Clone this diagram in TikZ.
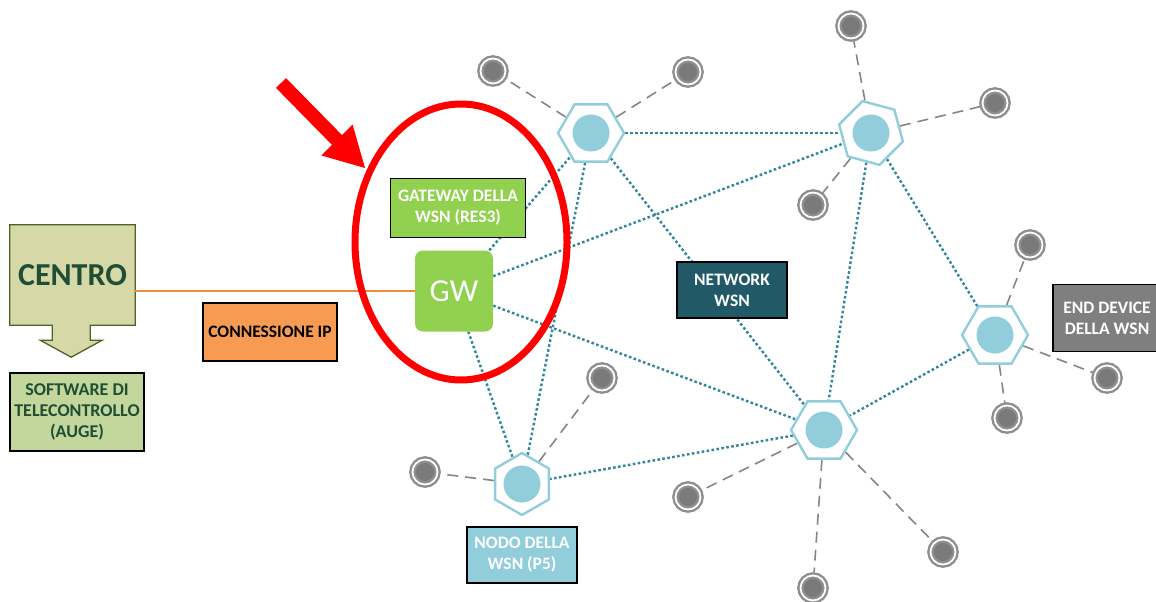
\documentclass[tikz,border=0pt]{standalone}
\usepackage{fontspec}
\setmainfont{Carlito}
\usetikzlibrary{shapes.geometric}
\pgfdeclarelayer{background}
\pgfsetlayers{background,main}

\definecolor{teallink}{HTML}{31859C}
\definecolor{hexline}{HTML}{92CDDC}
\definecolor{hexfill}{HTML}{92CDDC}
\definecolor{devfill}{HTML}{7A7A7A}
\definecolor{devring}{HTML}{8E8E8E}
\definecolor{devlink}{HTML}{858585}
\definecolor{gwgreen}{HTML}{92D050}
\definecolor{netteal}{HTML}{215967}
\definecolor{endgrey}{HTML}{7F7F7F}
\definecolor{ipfill}{HTML}{F79B52}
\definecolor{ipline}{HTML}{F38B3C}
\definecolor{centrofill}{HTML}{D7D8A8}
\definecolor{centroline}{HTML}{4F6228}
\definecolor{centrotext}{HTML}{1F4E35}
\definecolor{softfill}{HTML}{C3D69B}
\definecolor{alertred}{HTML}{FF0000}

\begin{document}
\begin{tikzpicture}[x=1pt,y=-1pt,
  hexa/.style={regular polygon, regular polygon sides=6, minimum size=#1,
    draw=hexline, line width=2.4pt, fill=white, inner sep=0pt},
  hexa/.default=66pt,
  enddev/.style={circle, minimum size=25pt, inner sep=0pt, fill=devfill,
    draw=devring, line width=2.4pt, double=white, double distance=1.8pt,
    outer sep=3pt},
  wsnlink/.style={draw=teallink, line width=2.4pt, dash pattern=on 2.6pt off 2.4pt},
  devlinkstyle/.style={draw=devlink, line width=1.6pt, dash pattern=on 11pt off 7pt},
  tag/.style={draw=black, line width=1.3pt, align=center, inner sep=0pt,
    font=\bfseries\fontsize{17.5}{21}\selectfont},
]
\useasboundingbox (0,0) rectangle (1156,602);

% ---- WSN routers (hexagons) ----
\node[hexa] (h1) at (591,133) {};
\node[hexa, shape border rotate=45] (h2) at (871,133) {};
\node[hexa] (h3) at (995,335) {};
\node[hexa] (h4) at (824,430) {};
\node[hexa=62pt, shape border rotate=30] (h5) at (522,484) {};
\foreach \h in {h1,h2,h3,h4,h5}
  \fill[hexfill] (\h.center) circle (18.5);

% ---- end devices ----
\node[enddev] (e1) at (493,71) {};
\node[enddev] (e2) at (688,72) {};
\node[enddev] (e3) at (851,26) {};
\node[enddev] (e4) at (995,103) {};
\node[enddev] (e5) at (813,205) {};
\node[enddev] (e6) at (1030,245) {};
\node[enddev] (e7) at (1107,378) {};
\node[enddev] (e8) at (1007,418) {};
\node[enddev] (e9) at (602,378) {};
\node[enddev] (e10) at (425,472) {};
\node[enddev] (e11) at (688,497) {};
\node[enddev] (e12) at (943,552) {};
\node[enddev] (e13) at (813,588) {};

% ---- gateway ----
\node[fill=gwgreen, rounded corners=8pt, minimum width=78pt, minimum height=81pt,
  inner sep=0pt, text=white, font=\fontsize{32}{32}\selectfont] (gw) at (454,291) {GW};
\node[tag, fill=gwgreen, text=white, minimum width=135pt, minimum height=59pt]
  (gwlabel) at (458,208) {GATEWAY DELLA\\WSN (RES3)};

% ---- labels ----
\node[tag, fill=netteal, text=white, minimum width=110pt, minimum height=56pt]
  (netlabel) at (732,290) {NETWORK\\WSN};
\node[tag, fill=endgrey, text=white, minimum width=108pt, minimum height=67pt]
  (endlabel) at (1107,318) {END DEVICE\\DELLA WSN};
\node[tag, fill=hexfill, text=white, minimum width=110pt, minimum height=56pt]
  (nodelabel) at (522,555) {NODO DELLA\\WSN (P5)};
\node[tag, fill=ipfill, text=black, minimum width=134pt, minimum height=58pt]
  (iplabel) at (270,332) {CONNESSIONE IP};
\node[tag, fill=softfill, text=centrotext, minimum width=134pt, minimum height=78pt,
  font=\bfseries\fontsize{18}{21}\selectfont]
  (software) at (77,412) {SOFTWARE DI\\TELECONTROLLO\\(AUGE)};

% ---- control centre with its down arrow ----
\node[minimum width=125pt, minimum height=100pt, inner sep=0pt] (centro) at (72.5,275) {};
\fill[centrofill, draw=centroline, line width=1.3pt]
  (centro.north west) -- (centro.north east) -- (centro.south east)
  -- ++(-45,0) -- ++(0,15) -- ++(12,0) -- ++(-31,17) -- ++(-31,-17)
  -- ++(12,0) -- ++(0,-15) -- (centro.south west) -- cycle;
\node[text=centrotext, font=\bfseries\fontsize{32}{32}\selectfont] at (centro.center) {CENTRO};

% ---- IP link ----
\draw[ipline, line width=1.8pt] (gw.west) -- (gw.west -| centro.east);

% ---- highlight ----
\draw[alertred, line width=7pt] (461,242) ellipse [x radius=106, y radius=138];
\fill[alertred] (286,78.1) -- (342,135.1) -- (352.6,124.5) -- (365,168)
  -- (321.4,155.5) -- (332,144.9) -- (276,87.9) -- cycle;

% ---- links ----
\begin{pgfonlayer}{background}
  \foreach \a/\b in {gw/h1, gw/h2, gw/h4, gw/h5, h1/h2, h1/h4, h1/h5,
                     h2/h3, h2/h4, h3/h4, h4/h5}
    \path[wsnlink] (\a) -- (\b);
  \foreach \a/\b in {h1/e1, h1/e2, h2/e3, h2/e4, h2/e5, h3/e6, h3/e7, h3/e8,
                     h5/e9, h5/e10, h4/e11, h4/e12, h4/e13}
    \path[devlinkstyle] (\a) -- (\b);
\end{pgfonlayer}
\end{tikzpicture}
\end{document}
